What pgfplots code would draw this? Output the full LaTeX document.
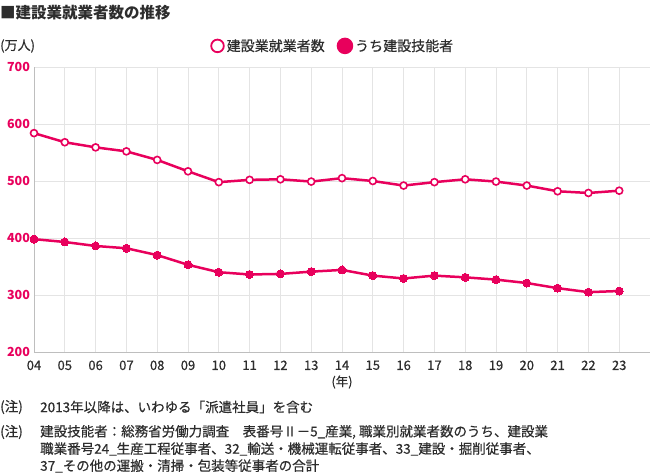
\documentclass[border=0pt]{standalone}
\usepackage{fontspec}
\setmainfont{Noto Sans CJK JP}
\newfontfamily\med{Noto Sans CJK JP}[FakeBold=0.5]
\usepackage{pgfplots}
\pgfplotsset{compat=1.18}
\definecolor{pk}{RGB}{232,0,92}
\definecolor{tx}{RGB}{45,45,45}
\definecolor{gr}{RGB}{228,228,228}
\definecolor{ax}{RGB}{190,190,190}
\newcommand{\fs}[1]{\fontsize{#1}{#1}\selectfont}
\begin{document}
\begin{tikzpicture}
\path[use as bounding box] (0pt,0pt) rectangle (650pt,-476pt);
% titre et annotations
\node[anchor=west, inner sep=0pt, text=tx, font=\bfseries\fs{15.5}] at (0pt,-13pt) {■建設業就業者数の推移};
\node[anchor=west, inner sep=0pt, text=tx, font=\med\fs{13}] at (0pt,-46pt) {(万人)};
\node[anchor=center, inner sep=0pt, text=tx, font=\med\fs{12.5}] at (342pt,-382pt) {(年)};
\begin{scope}[every node/.style={anchor=west, inner sep=0pt, text=tx, font=\med\fs{13.5}}]
\node at (0pt,-407pt) {(注)};
\node at (40pt,-407pt) {2013年以降は、いわゆる「派遣社員」を含む};
\node at (0pt,-432pt) {(注)};
\node at (40pt,-432pt) {建設技能者：総務省労働力調査　表番号Ⅱ－5\_産業, 職業別就業者数のうち、建設業};
\node at (40pt,-449pt) {職業番号24\_生産工程従事者、32\_輸送・機械運転従事者、33\_建設・掘削従事者、};
\node at (40pt,-466pt) {37\_その他の運搬・清掃・包装等従事者の合計};
\end{scope}
\begin{axis}[
    at={(34pt,-352pt)}, anchor=south west,
    scale only axis, width=616pt, height=285pt,
    xmin=4, xmax=24, ymin=200, ymax=700,
    axis x line*=bottom, axis y line*=left,
    axis line style={draw=ax, line width=0.8pt, -},
    xtick={4,...,23},
    xticklabels={04,05,06,07,08,09,10,11,12,13,14,15,16,17,18,19,20,21,22,23},
    ytick={200,300,...,700},
    grid=major, major grid style={draw=gr, line width=0.8pt},
    major tick length=0pt,
    /pgf/number format/assume math mode=true,
    yticklabel style={text=pk, font=\bfseries\fs{12.5}, xshift=-0.5pt},
    xticklabel style={text=tx, font=\med\fs{13}, yshift=-5pt},
    legend style={at={(0.485,1.074)}, anchor=center, draw=none, fill=none,
        font=\med\fs{14}, text=tx, legend columns=2,
        /tikz/every even column/.append style={column sep=10pt}},
    clip=false,
]
\addplot[pk, line width=2.5pt, mark=*, mark size=3.5pt,
    mark options={fill=white, draw=pk, line width=1.6pt},
    legend image code/.code={\draw[pk, line width=1.8pt, fill=white] (0.2cm,0pt) circle (6.3pt);}]
coordinates {
    (4,584) (5,568) (6,559) (7,552) (8,537) (9,517) (10,498) (11,502)
    (12,503) (13,499) (14,505) (15,500) (16,492) (17,498) (18,503)
    (19,499) (20,492) (21,482) (22,479) (23,483)
};
\addlegendentry{建設業就業者数}
\addplot[pk, line width=2.5pt, mark=*, mark size=4pt,
    mark options={fill=pk, draw=pk, line width=0pt},
    legend image code/.code={\fill[pk] (0.2cm,0pt) circle (7pt);}]
coordinates {
    (4,398) (5,393) (6,386) (7,382) (8,370) (9,353) (10,340) (11,336)
    (12,337) (13,341) (14,344) (15,334) (16,329) (17,334) (18,331)
    (19,327) (20,321) (21,312) (22,305) (23,307)
};
\addlegendentry{うち建設技能者}
\end{axis}
\end{tikzpicture}
\end{document}
